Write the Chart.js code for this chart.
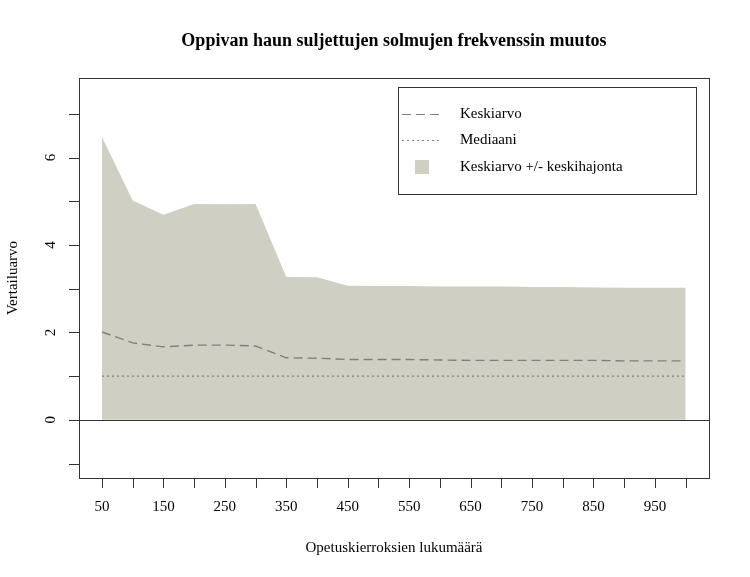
<!DOCTYPE html>
<html>
<head>
<meta charset="utf-8">
<script src="https://cdn.jsdelivr.net/npm/chart.js@4/dist/chart.umd.min.js"></script>
<style>
  html, body { margin: 0; padding: 0; background: #fff; }
  #wrap { width: 750px; height: 577px; }
</style>
</head>
<body>
<div id="wrap"><canvas id="c" width="750" height="577"></canvas></div>
<script>
/* ================= DATA ================= */
const rounds = [50, 100, 150, 200, 250, 300, 350, 400, 450, 500, 550, 600, 650, 700, 750, 800, 850, 900, 950, 1000];
const meanValues = [2.01, 1.76, 1.67, 1.71, 1.71, 1.69, 1.42, 1.41, 1.38, 1.38, 1.38, 1.37, 1.36, 1.36, 1.36, 1.36, 1.36, 1.35, 1.35, 1.35];
const medianValues = [1, 1, 1, 1, 1, 1, 1, 1, 1, 1, 1, 1, 1, 1, 1, 1, 1, 1, 1, 1];
const upperValues = [6.47, 5.02, 4.69, 4.94, 4.93, 4.94, 3.27, 3.26, 3.07, 3.06, 3.06, 3.05, 3.05, 3.05, 3.04, 3.04, 3.03, 3.02, 3.02, 3.02];
const lowerValues = [0, 0, 0, 0, 0, 0, 0, 0, 0, 0, 0, 0, 0, 0, 0, 0, 0, 0, 0, 0];
const xLabelTicks = [50, 150, 250, 350, 450, 550, 650, 750, 850, 950];
const yTicks = [-1, 0, 1, 2, 3, 4, 5, 6, 7];
const yLabelTicks = [0, 2, 4, 6];

const FONT = '"Liberation Serif", "DejaVu Serif", serif';
const BAND = '#cfcfc3';
const pts = v => rounds.map((x, i) => ({ x, y: v[i] }));

/* ================= AXES / FRAME PLUGIN ================= */
const baseAxes = {
  id: 'baseAxes',
  afterDatasetsDraw(chart) {
    const { ctx, chartArea: a, scales: { x, y } } = chart;
    ctx.save();
    ctx.strokeStyle = '#333';
    ctx.lineWidth = 1;
    ctx.strokeRect(a.left + 0.5, a.top + 0.5, a.right - a.left, a.bottom - a.top);
    // zero line
    const y0 = Math.round(y.getPixelForValue(0)) + 0.5;
    ctx.beginPath(); ctx.moveTo(a.left, y0); ctx.lineTo(a.right, y0); ctx.stroke();
    // x ticks
    ctx.fillStyle = '#000';
    ctx.font = '15px ' + FONT;
    ctx.textAlign = 'center';
    ctx.textBaseline = 'top';
    rounds.forEach(v => {
      const px = Math.round(x.getPixelForValue(v)) + 0.5;
      ctx.beginPath(); ctx.moveTo(px, a.bottom); ctx.lineTo(px, a.bottom + 10); ctx.stroke();
    });
    xLabelTicks.forEach(v => ctx.fillText(String(v), x.getPixelForValue(v), a.bottom + 22));
    // y ticks
    yTicks.forEach(v => {
      const py = Math.round(y.getPixelForValue(v)) + 0.5;
      ctx.beginPath(); ctx.moveTo(a.left - 10, py); ctx.lineTo(a.left, py); ctx.stroke();
    });
    yLabelTicks.forEach(v => {
      ctx.save();
      ctx.translate(a.left - 24, y.getPixelForValue(v));
      ctx.rotate(-Math.PI / 2);
      ctx.textBaseline = 'alphabetic';
      ctx.fillText(String(v), 0, 0);
      ctx.restore();
    });
    // titles
    ctx.font = 'bold 18px ' + FONT;
    ctx.textBaseline = 'middle';
    ctx.fillText('Oppivan haun suljettujen solmujen frekvenssin muutos', 394, 41);
    ctx.font = '15px ' + FONT;
    ctx.fillText('Opetuskierroksien lukumäärä', 394, 548);
    ctx.save();
    ctx.translate(13, 278);
    ctx.rotate(-Math.PI / 2);
    ctx.fillText('Vertailuarvo', 0, 0);
    ctx.restore();
    // legend
    ctx.fillStyle = '#fff';
    ctx.fillRect(398, 87, 298, 107);
    ctx.strokeStyle = '#333';
    ctx.strokeRect(398.5, 87.5, 298, 107);
    ctx.strokeStyle = '#808080';
    ctx.setLineDash([9, 5]);
    ctx.beginPath(); ctx.moveTo(402, 114.5); ctx.lineTo(442, 114.5); ctx.stroke();
    ctx.setLineDash([2, 3]);
    ctx.beginPath(); ctx.moveTo(402, 140.5); ctx.lineTo(442, 140.5); ctx.stroke();
    ctx.setLineDash([]);
    ctx.fillStyle = BAND;
    ctx.fillRect(415, 160, 14, 14);
    ctx.fillStyle = '#000';
    ctx.textAlign = 'left';
    ctx.fillText('Keskiarvo', 460, 114);
    ctx.fillText('Mediaani', 460, 140);
    ctx.fillText('Keskiarvo +/- keskihajonta', 460, 167);
    ctx.restore();
  }
};

/* ================= CHART ================= */
new Chart(document.getElementById('c'), {
  type: 'line',
  data: {
    datasets: [
      { label: 'lower', data: pts(lowerValues), borderWidth: 0, pointRadius: 0, fill: false, order: 4 },
      { label: 'Keskiarvo +/- keskihajonta', data: pts(upperValues), borderWidth: 0, pointRadius: 0,
        backgroundColor: BAND, fill: '-1', order: 3 },
      { label: 'Mediaani', data: pts(medianValues), borderColor: '#808080', borderWidth: 1.2,
        borderDash: [2, 3], pointRadius: 0, fill: false, order: 2 },
      { label: 'Keskiarvo', data: pts(meanValues), borderColor: '#808080', borderWidth: 1.4,
        borderDash: [9, 5], pointRadius: 0, fill: false, order: 1 }
    ]
  },
  options: {
    responsive: false,
    animation: false,
    layout: { padding: { left: 79, right: 41, top: 78, bottom: 99 } },
    plugins: { legend: { display: false }, tooltip: { enabled: false } },
    scales: {
      x: { type: 'linear', min: 12.6, max: 1038, display: false },
      y: { type: 'linear', min: -1.33, max: 7.82, display: false }
    }
  },
  plugins: [baseAxes]
});
</script>
</body>
</html>
